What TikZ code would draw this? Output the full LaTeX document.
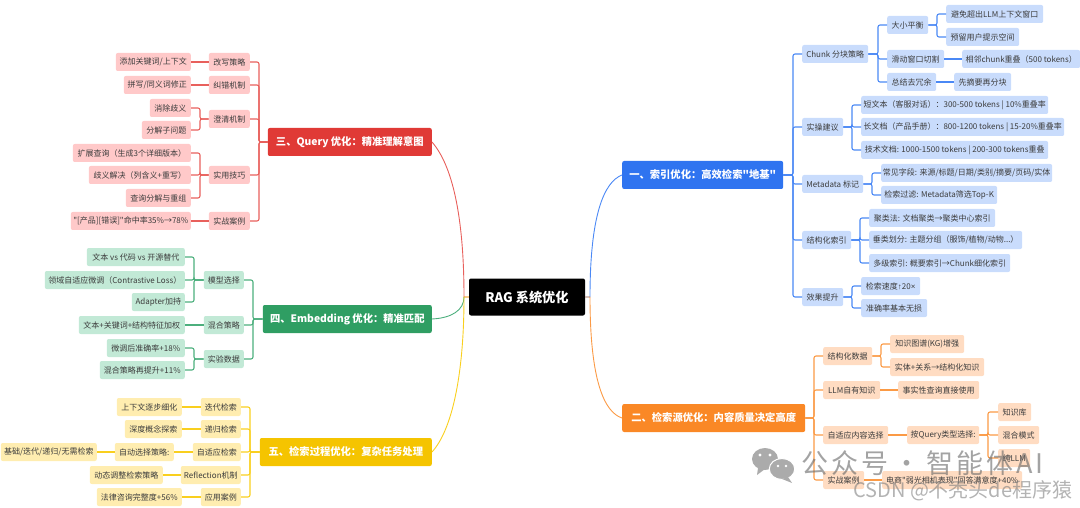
\documentclass[tikz,border=0pt]{standalone}
\usepackage{fontspec}
\setmainfont[Ligatures=TeXOff]{Noto Sans CJK SC}
\newfontfamily\symfont{Liberation Sans}
\newfontfamily\wmfont[LetterSpace=11]{Noto Sans CJK SC}
\newcommand{\fcolon}{\char"FF1A\relax}
\newcommand{\flp}{\char"FF08\relax}
\newcommand{\frp}{\char"FF09\relax}
\usetikzlibrary{calc}

\definecolor{qryroot}{HTML}{E03A36}
\definecolor{qryleaf}{HTML}{FFC9C9}
\definecolor{qryline}{HTML}{E8605C}
\definecolor{embroot}{HTML}{2F9E63}
\definecolor{embleaf}{HTML}{C2E9D6}
\definecolor{embline}{HTML}{4CAF7D}
\definecolor{retroot}{HTML}{F5C400}
\definecolor{retleaf}{HTML}{FFEDB0}
\definecolor{retline}{HTML}{F9CF1E}
\definecolor{idxroot}{HTML}{2F74F0}
\definecolor{idxleaf}{HTML}{C9DCFC}
\definecolor{idxline}{HTML}{4A88F5}
\definecolor{srcroot}{HTML}{FA8826}
\definecolor{srcleaf}{HTML}{FFDCC2}
\definecolor{srcline}{HTML}{FB9A45}
\definecolor{bodytext}{HTML}{3C3C3C}
\definecolor{wmgrey}{HTML}{ABABAB}

\tikzset{
	box/.style={rounded corners=2,inner sep=0,minimum height=18,text=bodytext,font=\fontsize{8}{8}\selectfont},
	rootbox/.style={rounded corners=2,inner sep=0,minimum height=28,text=white,font=\fontsize{10.3}{10.3}\selectfont\bfseries},
	qrybox/.style={box,fill=qryleaf,anchor=east},
	embbox/.style={box,fill=embleaf,anchor=east},
	retbox/.style={box,fill=retleaf,anchor=east},
	idxbox/.style={box,fill=idxleaf,anchor=west},
	srcbox/.style={box,fill=srcleaf,anchor=west},
	qryedge/.style={qryline,line width=1.1,rounded corners=2},
	embedge/.style={embline,line width=1.1,rounded corners=2},
	retedge/.style={retline,line width=1.1,rounded corners=2},
	idxedge/.style={idxline,line width=1.1,rounded corners=2},
	srcedge/.style={srcline,line width=1.1,rounded corners=2}
}

\begin{document}
\begin{tikzpicture}[x=1pt,y=-1pt]
	\useasboundingbox (0,0) rectangle (1080,508);

	% centre and the five main topics
	\node[rootbox,fill=black,minimum width=116,minimum height=37,font=\fontsize{13.2}{13.2}\selectfont\bfseries] (rag) at (527,297) {RAG 系统优化};
	\node[rootbox,fill=idxroot,minimum width=161,anchor=west] (idx) at (622,175) {一、索引优化\fcolon 高效检索"地基"};
	\node[rootbox,fill=srcroot,minimum width=183,anchor=west] (src) at (622,418) {二、检索源优化\fcolon 内容质量决定高度};
	\node[rootbox,fill=qryroot,minimum width=164,anchor=east] (qry) at (432,142) {三、Query 优化\fcolon 精准理解意图};
	\node[rootbox,fill=embroot,minimum width=169,anchor=east] (emb) at (432,319) {四、Embedding 优化\fcolon 精准匹配};
	\node[rootbox,fill=retroot,minimum width=172,anchor=east] (ret) at (432,452) {五、检索过程优化\fcolon 复杂任务处理};

	% main curves
	\coordinate (ragl) at (464,297);
	\coordinate (ragr) at (590,297);
	\draw[idxline,line width=.9] (rag.east) -- (ragr) .. controls (590,215) and (604,182) .. (idx.west);
	\draw[srcline,line width=.9] (rag.east) -- (ragr) .. controls (590,380) and (604,412) .. (src.west);
	\draw[qryline,line width=.9] (rag.west) -- (ragl) .. controls (464,215) and (452,165) .. (qry.east);
	\draw[embline,line width=.9] (ragl) .. controls (464,310) and (452,318) .. (emb.east);
	\draw[retline,line width=.9] (rag.west) -- (ragl) .. controls (464,375) and (452,430) .. (ret.east);

	% spines
	\coordinate (qrys) at (259,0);
	\coordinate (qrys2) at (200,0);
	\coordinate (embs) at (253,0);
	\coordinate (embs2) at (194,0);
	\coordinate (rets) at (250,0);
	\coordinate (idxs) at (793,0);
	\coordinate (idxs2) at (878,0);
	\coordinate (idxs3) at (937,0);
	\coordinate (idxs4) at (852,0);
	\coordinate (idxs5) at (872,0);
	\coordinate (idxs6) at (860,0);
	\coordinate (srcs) at (814,0);
	\coordinate (srcs2) at (881,0);
	\coordinate (srcs3) at (988,0);

	% Query
	\node[qrybox,minimum width=41] (qa) at (250,62) {改写策略};
	\node[qrybox,minimum width=41] (qb) at (250,85) {纠错机制};
	\node[qrybox,minimum width=41] (qc) at (250,119) {澄清机制};
	\node[qrybox,minimum width=41] (qd) at (250,175) {实用技巧};
	\node[qrybox,minimum width=41] (qe) at (250,221) {实战案例};
	\node[qrybox,minimum width=75] (qa1) at (191,62) {添加关键词/上下文};
	\node[qrybox,minimum width=67] (qb1) at (191,85) {拼写/同义词修正};
	\node[qrybox,minimum width=41] (qc1) at (191,108) {消除歧义};
	\node[qrybox,minimum width=49] (qc2) at (191,130) {分解子问题};
	\node[qrybox,minimum width=118] (qd1) at (191,153) {扩展查询\flp 生成3个详细版本\frp};
	\node[qrybox,minimum width=102] (qd2) at (191,175) {歧义解决\flp 列含义+重写\frp};
	\node[qrybox,minimum width=65] (qd3) at (191,198) {查询分解与重组};
	\node[qrybox,minimum width=120] (qe1) at (191,221) {"[产品][错误]"命中率35\%→78\%};
	\foreach \n in {qa,qb,qc,qd,qe}
		\draw[qryedge] (qry.west) -- (qry.west -| qrys) |- (\n.east);
	\draw[qryedge] (qa.west) -- (qa1.east);
	\draw[qryedge] (qb.west) -- (qb1.east);
	\draw[qryedge] (qe.west) -- (qe1.east);
	\foreach \n in {qc1,qc2}
		\draw[qryedge] (qc.west) -- (qc.west -| qrys2) |- (\n.east);
	\foreach \n in {qd1,qd2,qd3}
		\draw[qryedge] (qd.west) -- (qd.west -| qrys2) |- (\n.east);

	% Embedding
	\node[embbox,minimum width=40] (ea) at (244,280) {模型选择};
	\node[embbox,minimum width=40] (eb) at (244,325) {混合策略};
	\node[embbox,minimum width=40] (ec) at (244,359) {实验数据};
	\node[embbox,minimum width=98] (ea1) at (185,257) {文本 vs 代码 vs 开源替代};
	\node[embbox,minimum width=140] (ea2) at (185,280) {领域自适应微调\flp Contrastive Loss\frp};
	\node[embbox,minimum width=53] (ea3) at (185,302) {Adapter加持};
	\node[embbox,minimum width=106] (eb1) at (185,325) {文本+关键词+结构特征加权};
	\node[embbox,minimum width=78] (ec1) at (185,348) {微调后准确率+18\%};
	\node[embbox,minimum width=85] (ec2) at (185,370) {混合策略再提升+11\%};
	\foreach \n in {ea,eb,ec}
		\draw[embedge] (emb.west) -- (emb.west -| embs) |- (\n.east);
	\foreach \n in {ea1,ea2,ea3}
		\draw[embedge] (ea.west) -- (ea.west -| embs2) |- (\n.east);
	\draw[embedge] (eb.west) -- (eb1.east);
	\foreach \n in {ec1,ec2}
		\draw[embedge] (ec.west) -- (ec.west -| embs2) |- (\n.east);

	% retrieval process
	\node[retbox,minimum width=40] (ra) at (241,407) {迭代检索};
	\node[retbox,minimum width=40] (rb) at (241,429) {递归检索};
	\node[retbox,minimum width=48] (rc) at (241,452) {自适应检索};
	\node[retbox,minimum width=60] (rd) at (241,475) {Reflection机制};
	\node[retbox,minimum width=40] (re) at (241,497) {应用案例};
	\node[retbox,minimum width=65] (ra1) at (182,407) {上下文逐步细化};
	\node[retbox,minimum width=57] (rb1) at (182,429) {深度概念探索};
	\node[retbox,minimum width=59] (rc1) at (174,452) {自动选择策略:};
	\node[retbox,minimum width=96] (rc2) at (97,452) {基础/迭代/递归/无需检索};
	\node[retbox,minimum width=73] (rd1) at (163,475) {动态调整检索策略};
	\node[retbox,minimum width=85] (re1) at (182,497) {法律咨询完整度+56\%};
	\foreach \n in {ra,rb,rc,rd,re}
		\draw[retedge] (ret.west) -- (ret.west -| rets) |- (\n.east);
	\draw[retedge] (ra.west) -- (ra1.east);
	\draw[retedge] (rb.west) -- (rb1.east);
	\draw[retedge] (rc.west) -- (rc1.east);
	\draw[retedge] (rc1.west) -- (rc2.east);
	\draw[retedge] (rd.west) -- (rd1.east);
	\draw[retedge] (re.west) -- (re1.east);

	% index
	\node[idxbox,minimum width=66] (ia) at (802,54) {Chunk 分块策略};
	\node[idxbox,minimum width=41] (ib) at (802,127) {实操建议};
	\node[idxbox,minimum width=61] (ic) at (802,184) {Metadata 标记};
	\node[idxbox,minimum width=49] (id) at (802,240) {结构化索引};
	\node[idxbox,minimum width=41] (ie) at (802,297) {效果提升};
	\node[idxbox,minimum width=41] (ia1) at (887,25) {大小平衡};
	\node[idxbox,minimum width=57] (ia2) at (887,59) {滑动窗口切割};
	\node[idxbox,minimum width=49] (ia3) at (887,82) {总结去冗余};
	\node[idxbox,minimum width=97] (ia11) at (946,14) {避免超出LLM上下文窗口};
	\node[idxbox,minimum width=73] (ia12) at (946,37) {预留用户提示空间};
	\node[idxbox,minimum width=118] (ia21) at (962,59) {相邻chunk重叠\flp 500 tokens\frp};
	\node[idxbox,minimum width=57] (ia31) at (954,82) {先摘要再分块};
	\node[idxbox,minimum width=187] (ib1) at (861,105) {短文本\flp 客服对话\frp\fcolon 300-500 tokens | 10\%重叠率};
	\node[idxbox,minimum width=203] (ib2) at (861,127) {长文档\flp 产品手册\frp\fcolon 800-1200 tokens | 15-20\%重叠率};
	\node[idxbox,minimum width=187] (ib3) at (861,150) {技术文档: 1000-1500 tokens | 200-300 tokens重叠};
	\node[idxbox,minimum width=171] (ic1) at (881,173) {常见字段: 来源/标题/日期/类别/摘要/页码/实体};
	\node[idxbox,minimum width=116] (ic2) at (881,195) {检索过滤: Metadata筛选Top-K};
	\node[idxbox,minimum width=126] (id1) at (869,218) {聚类法: 文档聚类→聚类中心索引};
	\node[idxbox,minimum width=153] (id2) at (869,240) {垂类划分: 主题分组\flp 服饰/植物/动物...\frp};
	\node[idxbox,minimum width=141] (id3) at (869,263) {多级索引: 概要索引→Chunk细化索引};
	\node[idxbox,minimum width=59] (ie1) at (861,286) {检索速度{\symfont ↑}20{\symfont ×}};
	\node[idxbox,minimum width=66] (ie2) at (861,308) {准确率基本无损};
	\foreach \n in {ia,ib,ic,id,ie}
		\draw[idxedge] (idx.east) -- (idx.east -| idxs) |- (\n.west);
	\foreach \n in {ia1,ia2,ia3}
		\draw[idxedge] (ia.east) -- (ia.east -| idxs2) |- (\n.west);
	\foreach \n in {ia11,ia12}
		\draw[idxedge] (ia1.east) -- (ia1.east -| idxs3) |- (\n.west);
	\draw[idxedge] (ia2.east) -- (ia21.west);
	\draw[idxedge] (ia3.east) -- (ia31.west);
	\foreach \n in {ib1,ib2,ib3}
		\draw[idxedge] (ib.east) -- (ib.east -| idxs4) |- (\n.west);
	\foreach \n in {ic1,ic2}
		\draw[idxedge] (ic.east) -- (ic.east -| idxs5) |- (\n.west);
	\foreach \n in {id1,id2,id3}
		\draw[idxedge] (id.east) -- (id.east -| idxs6) |- (\n.west);
	\foreach \n in {ie1,ie2}
		\draw[idxedge] (ie.east) -- (ie.east -| idxs4) |- (\n.west);

	% source
	\node[srcbox,minimum width=49] (sa) at (823,356) {结构化数据};
	\node[srcbox,minimum width=57] (sb) at (823,390) {LLM自有知识};
	\node[srcbox,minimum width=65] (sc) at (823,435) {自适应内容选择};
	\node[srcbox,minimum width=41] (sd) at (823,480) {实战案例};
	\node[srcbox,minimum width=74] (sa1) at (890,344) {知识图谱(KG)增强};
	\node[srcbox,minimum width=94] (sa2) at (890,367) {实体+关系→结构化知识};
	\node[srcbox,minimum width=81] (sb1) at (898,390) {事实性查询直接使用};
	\node[srcbox,minimum width=72] (sc1) at (907,435) {按Query类型选择:};
	\node[srcbox,minimum width=33] (sc11) at (998,412) {知识库};
	\node[srcbox,minimum width=41] (sc12) at (998,435) {混合模式};
	\node[srcbox,minimum width=32] (sc13) at (998,458) {纯LLM};
	\node[srcbox,minimum width=140] (sd1) at (882,480) {电商"弱光相机表现"回答满意度+40\%};
	\foreach \n in {sa,sb,sc,sd}
		\draw[srcedge] (src.east) -- (src.east -| srcs) |- (\n.west);
	\foreach \n in {sa1,sa2}
		\draw[srcedge] (sa.east) -- (sa.east -| srcs2) |- (\n.west);
	\draw[srcedge] (sb.east) -- (sb1.west);
	\draw[srcedge] (sc.east) -- (sc1.west);
	\foreach \n in {sc11,sc12,sc13}
		\draw[srcedge] (sc1.east) -- (sc1.east -| srcs3) |- (\n.west);
	\draw[srcedge] (sd.east) -- (sd1.west);

	% watermarks
	\fill[wmgrey] (765,459) ellipse (13 and 11);
	\fill[wmgrey] (758,468) -- (757,475) -- (765,469) -- cycle;
	\fill[wmgrey,draw=white,line width=1] (782,469) ellipse (12.7 and 10.5);
	\fill[wmgrey] (788,477) -- (792,483) -- (782,479) -- cycle;
	\fill[white] (760,455) circle (1.6) (770,455) circle (1.6) (778,466) circle (1.4) (786,466) circle (1.4);
	\node[text=black!60,opacity=.6,font=\wmfont\fontsize{27}{27}\selectfont,anchor=west] (wma) at (798,463) {公众号\hspace{5.5pt}·\hspace{5.5pt}智能体AI};
	\node[text=black!50,opacity=.6,font=\fontsize{20}{20}\selectfont,anchor=east] (wmb) at (1076,491) {CSDN @不秃头de程序猿};
\end{tikzpicture}
\end{document}
